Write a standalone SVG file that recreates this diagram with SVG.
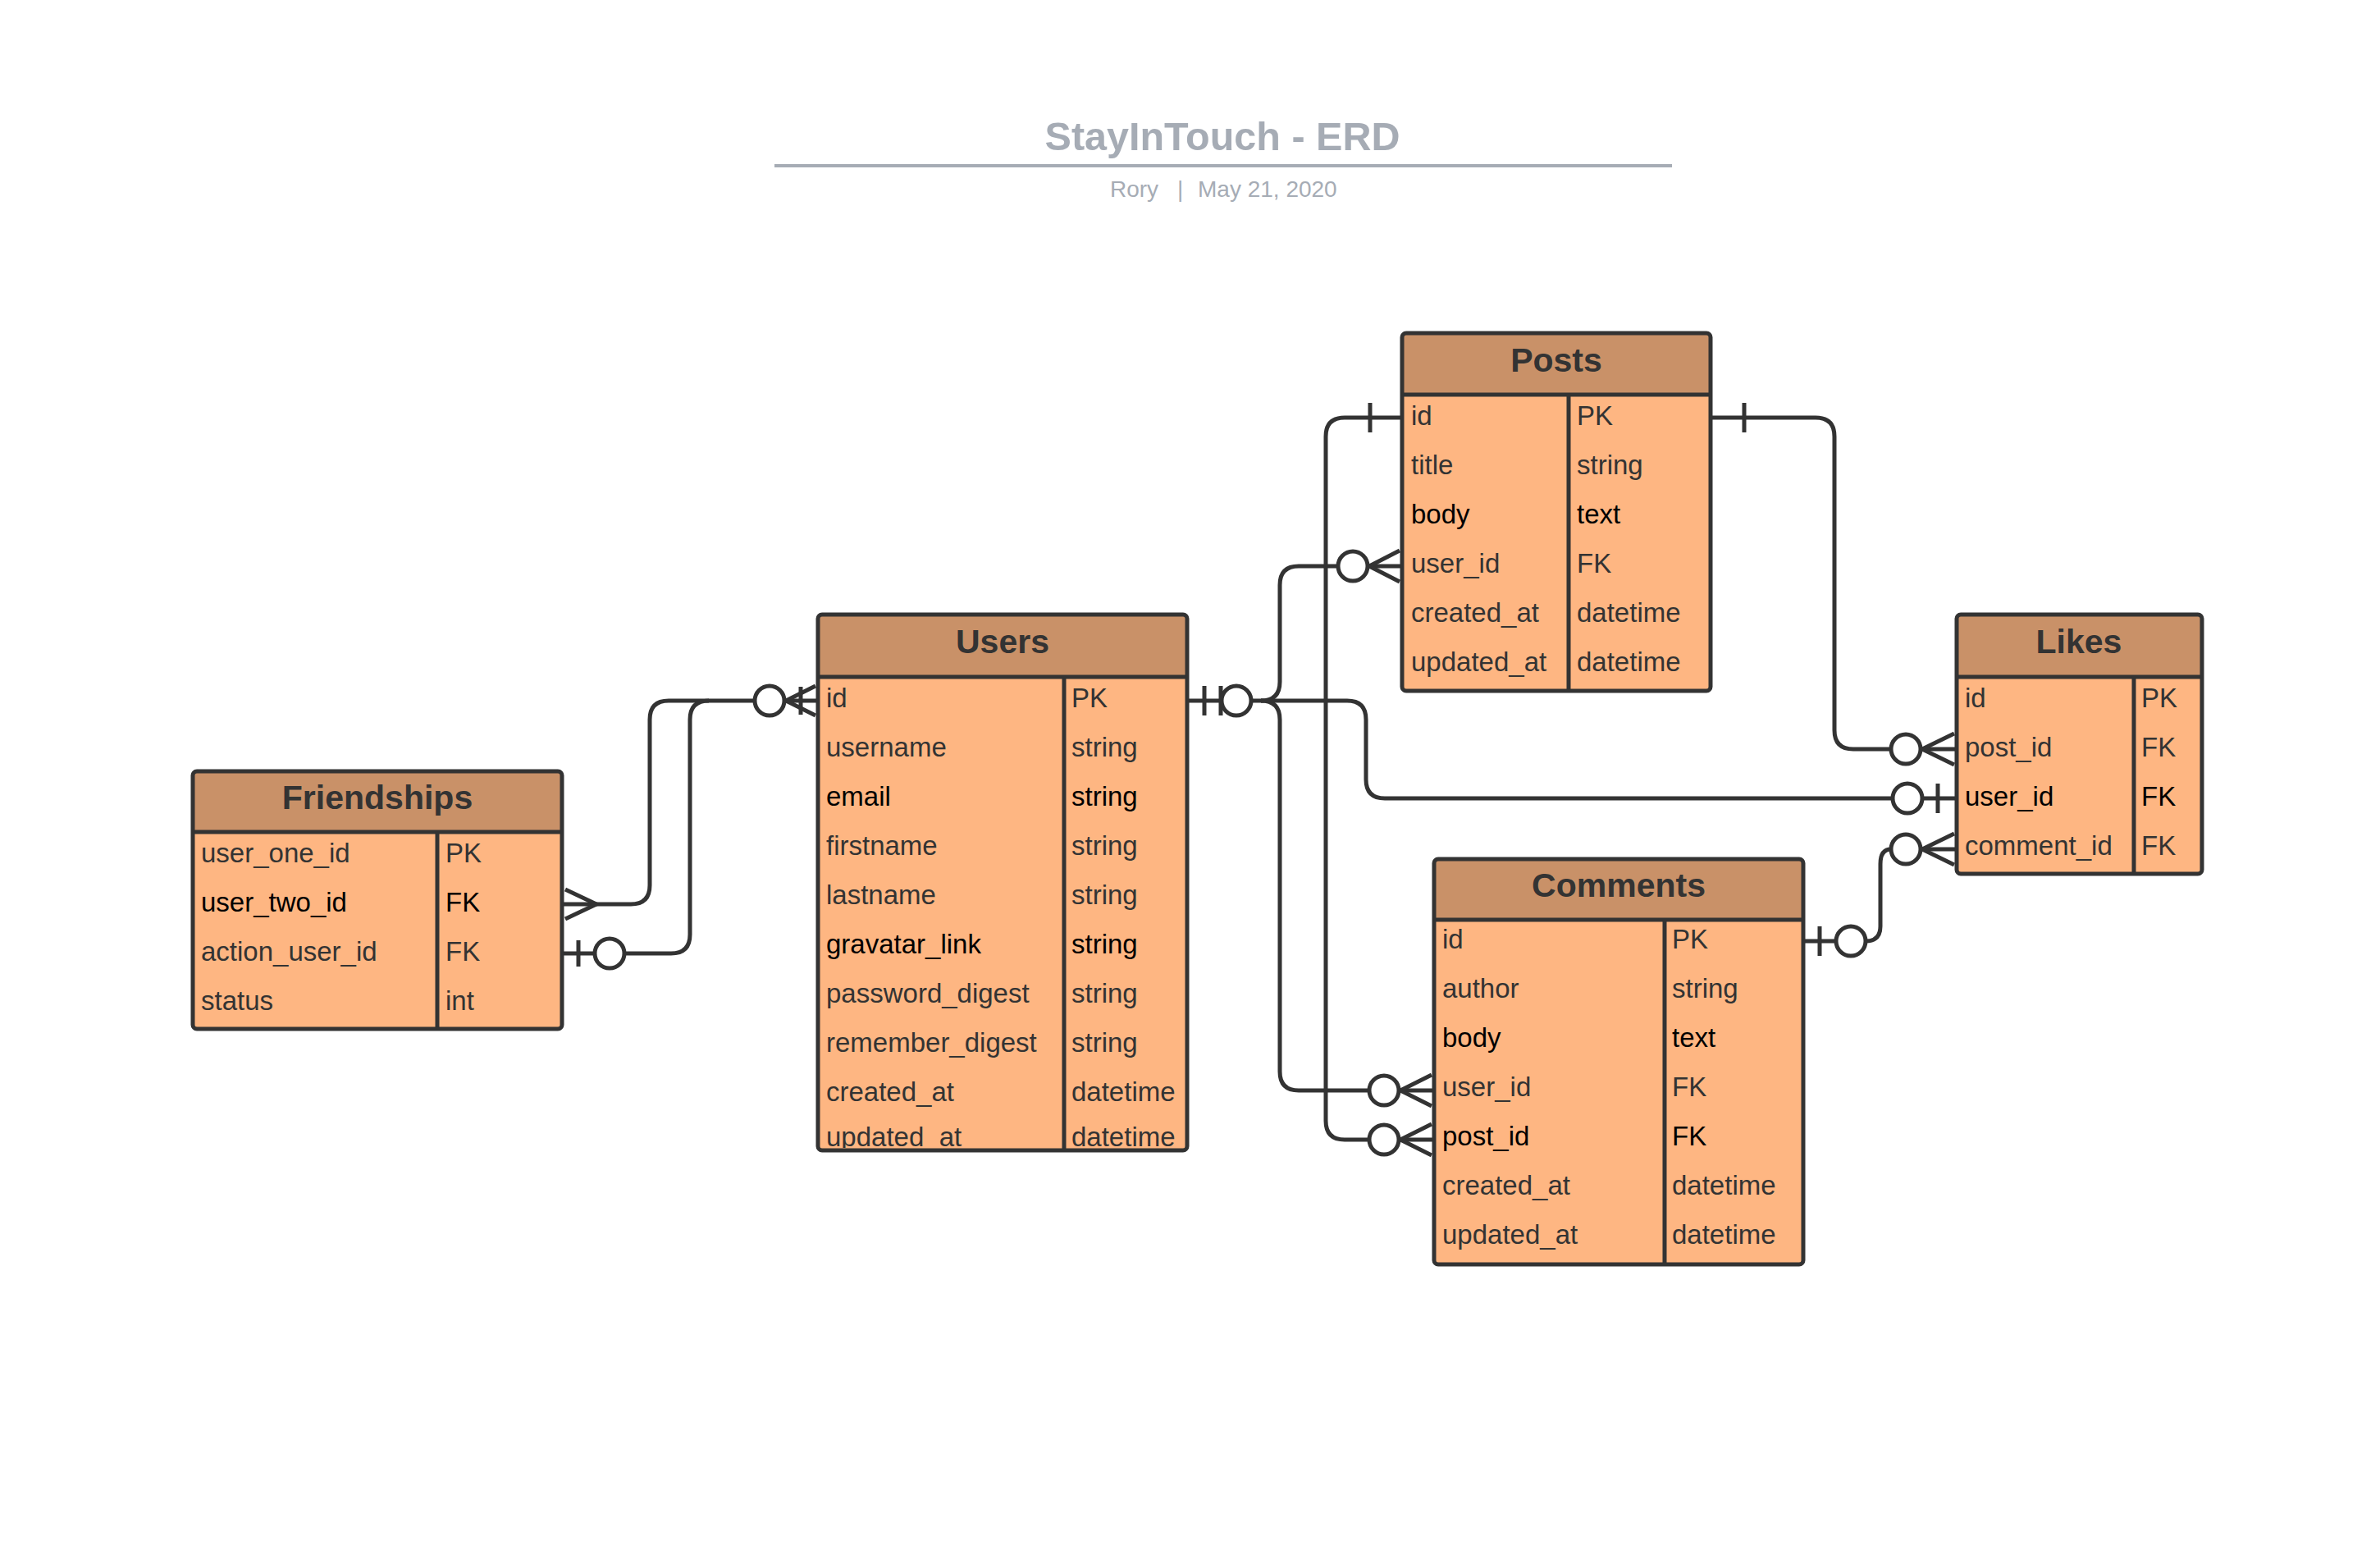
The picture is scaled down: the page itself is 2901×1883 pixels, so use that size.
<svg xmlns="http://www.w3.org/2000/svg" width="2901" height="1883" viewBox="0 0 2901 1883">
<style>
.bg{fill:#ffffff}
.title{font-family:"Liberation Sans",Arial,sans-serif;font-weight:bold;font-size:48.5px;fill:#a6acb5}
.sub{font-family:"Liberation Sans",Arial,sans-serif;font-size:28px;fill:#a6acb5}
.hdr{fill:#c99168}
.body{fill:#feb682}
.frame{fill:none;stroke:#333333;stroke-width:5}
.sep{stroke:#333333;stroke-width:5;fill:none}
.hname{font-family:"Liberation Sans",Arial,sans-serif;font-weight:bold;font-size:41px;fill:#333333;text-anchor:middle}
.f{font-family:"Liberation Sans",Arial,sans-serif;font-size:33px;fill:#333333}
.k{fill:#000000}
.ln{fill:none;stroke:#333333;stroke-width:5;stroke-linejoin:round}
.ci{fill:#ffffff;stroke:#333333;stroke-width:5}
</style>
<defs>
<clipPath id="usersClip"><rect x="997" y="825" width="450" height="574"/></clipPath>
</defs>
<rect class="bg" x="0" y="0" width="2901" height="1883"/>

<g id="title">
<text class="title" x="1490" y="183" text-anchor="middle">StayInTouch - ERD</text>
<line x1="944" y1="202" x2="2038" y2="202" stroke="#a6acb5" stroke-width="4"/>
<text class="sub" y="240"><tspan x="1353">Rory</tspan><tspan x="1435">|</tspan><tspan x="1460">May 21, 2020</tspan></text>
</g>

<g id="connectors">
<!-- Friendships.user_two_id -> Users.id -->
<path class="ln" d="M687 1102 H769 Q792 1102 792 1079 V877 Q792 854 815 854 H920"/>
<path class="ln" d="M689 1084 L727 1102 L689 1120"/>
<!-- Friendships.action_user_id -> Users.id -->
<path class="ln" d="M687 1162 H725"/>
<path class="ln" d="M761 1162 H818 Q841 1162 841 1139 V877 Q841 854 864 854"/>
<line class="ln" x1="705" y1="1146" x2="705" y2="1178"/>
<circle class="ci" cx="743" cy="1162" r="18"/>
<!-- Users.id left marker -->
<path class="ln" d="M956 854 H996"/>
<path class="ln" d="M994 836 L958 854 L994 872"/>
<line class="ln" x1="976" y1="837" x2="976" y2="871"/>
<circle class="ci" cx="938" cy="854" r="18"/>

<!-- Users.id right -->
<path class="ln" d="M1447 854 H1489"/>
<line class="ln" x1="1468" y1="836" x2="1468" y2="872"/>
<line class="ln" x1="1488" y1="836" x2="1488" y2="872"/>
<!-- to Posts.user_id -->
<path class="ln" d="M1525 854 H1537 Q1560 854 1560 831 V713 Q1560 690 1583 690 H1631"/>
<path class="ln" d="M1667 690 H1707"/>
<path class="ln" d="M1706 671 L1669 690 L1706 709"/>
<circle class="ci" cx="1649" cy="690" r="18"/>
<!-- to Comments.user_id -->
<path class="ln" d="M1537 854 Q1560 854 1560 877 V1306 Q1560 1329 1583 1329 H1669"/>
<path class="ln" d="M1705 1329 H1746"/>
<path class="ln" d="M1745 1310 L1707 1329 L1745 1348"/>
<circle class="ci" cx="1687" cy="1329" r="18"/>
<!-- to Likes.user_id -->
<path class="ln" d="M1537 854 H1642 Q1665 854 1665 877 V950 Q1665 973 1688 973 H2307"/>
<path class="ln" d="M2343 973 H2385"/>
<line class="ln" x1="2362" y1="955" x2="2362" y2="991"/>
<circle class="ci" cx="2325" cy="973" r="18"/>
<circle class="ci" cx="1507" cy="854" r="18"/>

<!-- Posts.id -> Comments.post_id -->
<path class="ln" d="M1709 509 H1639 Q1616 509 1616 532 V1366 Q1616 1389 1639 1389 H1669"/>
<line class="ln" x1="1670" y1="491" x2="1670" y2="527"/>
<path class="ln" d="M1705 1389 H1746"/>
<path class="ln" d="M1745 1370 L1707 1389 L1745 1408"/>
<circle class="ci" cx="1687" cy="1389" r="18"/>

<!-- Posts.id -> Likes.post_id -->
<path class="ln" d="M2085 509 H2213 Q2236 509 2236 532 V890 Q2236 913 2259 913 H2305"/>
<line class="ln" x1="2126" y1="491" x2="2126" y2="527"/>
<path class="ln" d="M2341 913 H2383"/>
<path class="ln" d="M2382 894 L2343 913 L2382 932"/>
<circle class="ci" cx="2323" cy="913" r="18"/>

<!-- Comments.id -> Likes.comment_id -->
<path class="ln" d="M2198 1147 H2238"/>
<line class="ln" x1="2218" y1="1129" x2="2218" y2="1165"/>
<path class="ln" d="M2274 1147 Q2292 1147 2292 1129 V1053 Q2292 1035 2305 1035"/>
<path class="ln" d="M2341 1035 H2383"/>
<path class="ln" d="M2382 1016 L2343 1035 L2382 1054"/>
<circle class="ci" cx="2256" cy="1147" r="18"/>
<circle class="ci" cx="2323" cy="1035" r="18"/>
</g>

<g id="friendships">
<rect class="body" x="235" y="940" width="450" height="314" rx="5"/>
<rect class="hdr" x="235" y="940" width="450" height="74" rx="5"/>
<line class="sep" x1="235" y1="1014" x2="685" y2="1014"/>
<line class="sep" x1="533" y1="1014" x2="533" y2="1254"/>
<rect class="frame" x="235" y="940" width="450" height="314" rx="5"/>
<text class="hname" x="460" y="986">Friendships</text>
<text class="f" x="245" y="1051">user_one_id</text><text class="f" x="543" y="1051">PK</text>
<text class="f k" x="245" y="1111">user_two_id</text><text class="f k" x="543" y="1111">FK</text>
<text class="f" x="245" y="1171">action_user_id</text><text class="f" x="543" y="1171">FK</text>
<text class="f" x="245" y="1231">status</text><text class="f" x="543" y="1231">int</text>
</g>

<g id="users">
<rect class="body" x="997" y="749" width="450" height="653" rx="5"/>
<rect class="hdr" x="997" y="749" width="450" height="76" rx="5"/>
<g clip-path="url(#usersClip)">
<text class="f" x="1007" y="862">id</text><text class="f" x="1306" y="862">PK</text>
<text class="f" x="1007" y="922">username</text><text class="f" x="1306" y="922">string</text>
<text class="f k" x="1007" y="982">email</text><text class="f k" x="1306" y="982">string</text>
<text class="f" x="1007" y="1042">firstname</text><text class="f" x="1306" y="1042">string</text>
<text class="f" x="1007" y="1102">lastname</text><text class="f" x="1306" y="1102">string</text>
<text class="f k" x="1007" y="1162">gravatar_link</text><text class="f k" x="1306" y="1162">string</text>
<text class="f" x="1007" y="1222">password_digest</text><text class="f" x="1306" y="1222">string</text>
<text class="f" x="1007" y="1282">remember_digest</text><text class="f" x="1306" y="1282">string</text>
<text class="f" x="1007" y="1342">created_at</text><text class="f" x="1306" y="1342">datetime</text>
<text class="f" x="1007" y="1397">updated_at</text><text class="f" x="1306" y="1397">datetime</text>
</g>
<line class="sep" x1="997" y1="825" x2="1447" y2="825"/>
<line class="sep" x1="1297" y1="825" x2="1297" y2="1402"/>
<rect class="frame" x="997" y="749" width="450" height="653" rx="5"/>
<text class="hname" x="1222" y="796">Users</text>
</g>

<g id="posts">
<rect class="body" x="1709" y="406" width="376" height="436" rx="5"/>
<rect class="hdr" x="1709" y="406" width="376" height="75" rx="5"/>
<line class="sep" x1="1709" y1="481" x2="2085" y2="481"/>
<line class="sep" x1="1912" y1="481" x2="1912" y2="842"/>
<rect class="frame" x="1709" y="406" width="376" height="436" rx="5"/>
<text class="hname" x="1897" y="453">Posts</text>
<text class="f" x="1720" y="518">id</text><text class="f" x="1922" y="518">PK</text>
<text class="f" x="1720" y="578">title</text><text class="f" x="1922" y="578">string</text>
<text class="f k" x="1720" y="638">body</text><text class="f k" x="1922" y="638">text</text>
<text class="f" x="1720" y="698">user_id</text><text class="f" x="1922" y="698">FK</text>
<text class="f" x="1720" y="758">created_at</text><text class="f" x="1922" y="758">datetime</text>
<text class="f" x="1720" y="818">updated_at</text><text class="f" x="1922" y="818">datetime</text>
</g>

<g id="likes">
<rect class="body" x="2385" y="749" width="299" height="316" rx="5"/>
<rect class="hdr" x="2385" y="749" width="299" height="76" rx="5"/>
<line class="sep" x1="2385" y1="825" x2="2684" y2="825"/>
<line class="sep" x1="2601" y1="825" x2="2601" y2="1065"/>
<rect class="frame" x="2385" y="749" width="299" height="316" rx="5"/>
<text class="hname" x="2534" y="796">Likes</text>
<text class="f" x="2395" y="862">id</text><text class="f" x="2610" y="862">PK</text>
<text class="f" x="2395" y="922">post_id</text><text class="f" x="2610" y="922">FK</text>
<text class="f k" x="2395" y="982">user_id</text><text class="f k" x="2610" y="982">FK</text>
<text class="f" x="2395" y="1042">comment_id</text><text class="f" x="2610" y="1042">FK</text>
</g>

<g id="comments">
<rect class="body" x="1748" y="1047" width="450" height="494" rx="5"/>
<rect class="hdr" x="1748" y="1047" width="450" height="74" rx="5"/>
<line class="sep" x1="1748" y1="1121" x2="2198" y2="1121"/>
<line class="sep" x1="2029" y1="1121" x2="2029" y2="1541"/>
<rect class="frame" x="1748" y="1047" width="450" height="494" rx="5"/>
<text class="hname" x="1973" y="1093">Comments</text>
<text class="f" x="1758" y="1156">id</text><text class="f" x="2038" y="1156">PK</text>
<text class="f" x="1758" y="1216">author</text><text class="f" x="2038" y="1216">string</text>
<text class="f k" x="1758" y="1276">body</text><text class="f k" x="2038" y="1276">text</text>
<text class="f" x="1758" y="1336">user_id</text><text class="f" x="2038" y="1336">FK</text>
<text class="f k" x="1758" y="1396">post_id</text><text class="f k" x="2038" y="1396">FK</text>
<text class="f" x="1758" y="1456">created_at</text><text class="f" x="2038" y="1456">datetime</text>
<text class="f" x="1758" y="1516">updated_at</text><text class="f" x="2038" y="1516">datetime</text>
</g>
</svg>
